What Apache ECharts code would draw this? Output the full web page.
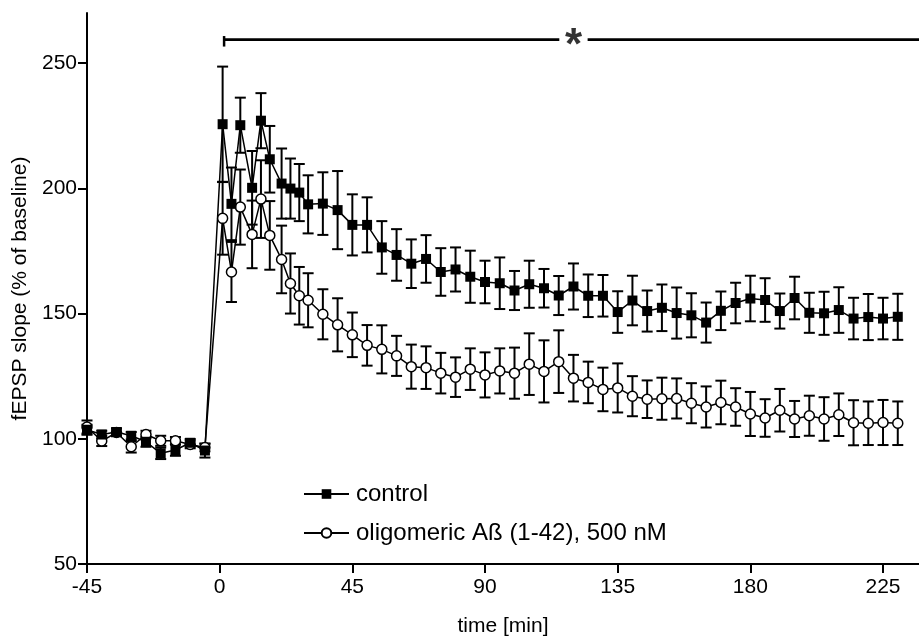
<!DOCTYPE html>
<html><head><meta charset="utf-8">
<script src="https://cdn.jsdelivr.net/npm/echarts@6/dist/echarts.min.js"></script>
<style>html,body{margin:0;padding:0;background:#fff}#c{width:919px;height:642px}</style>
</head><body><div id="c"></div>
<script>
// ---- data ----
const times = [-45,-40,-35,-30,-25,-20,-15,-10,-5,
  1,4,7,11,14,17,21,24,27,30,
  35,40,45,50,55,60,65,70,75,80,
  85,90,95,100,105,110,115,120,125,130,
  135,140,145,150,155,160,165,170,175,180,
  185,190,195,200,205,210,215,220,225,230];

const controlMean = [103.6,101.7,102.7,101.2,98.8,94.2,95.5,98.4,95.3,
  225.6,193.8,225.2,200.2,227,211.6,201.9,199.9,198.3,193.6,
  193.9,191.3,185.4,185.4,176.4,173.4,169.9,171.8,166.6,167.6,
  164.7,162.6,162.1,159.2,161.7,160.1,157.2,160.8,157.1,157.1,
  150.6,155.2,151,152.3,150.2,149.3,146.4,151.1,154.2,156,
  155.4,151,156.2,150.3,150.1,151.4,148,148.6,148,148.7];

const controlSem = [2,1.5,1.5,1.5,2,2.3,2.3,1.5,2.8,
  23,14.5,11,14.7,11,13.3,14,12,11.4,11.6,
  12.5,15.6,12.2,11,10.5,10.3,9.7,9.5,9.5,8.8,
  10.4,8.5,10.3,7.8,9.4,7.7,7.8,9.2,8.5,8.3,
  8.3,9.9,8.2,9.3,10.2,8.8,8,7.7,8.1,9.1,
  8.7,7,8.5,8,8.6,9.1,8.3,9.2,8.3,9.2];

const abetaMean = [104.7,99.1,102.5,96.8,101.7,99.2,99.2,97.7,96.5,
  188,166.6,192.5,181.6,195.7,181.2,171.6,162,157.1,155.3,
  149.7,145.5,141.5,137.3,135.7,133.1,128.8,128.4,126.2,124.6,
  127.8,125.5,127.1,126.2,129.8,126.9,130.8,124.2,122.5,119.7,
  120.3,117,115.8,116,116.1,114.2,112.7,114.5,112.7,109.9,
  108.3,111.4,107.9,109.2,107.9,109.6,106.4,106.2,106.5,106.2];

const abetaSem = [2.6,2,1.5,2.3,1.5,2,1.5,1.5,1.5,
  14.5,12,15,13.5,15.5,13.7,13.5,12,11.5,10.8,
  10,10.6,8.9,8.1,9.6,8,8.8,8.5,8.1,7.9,
  8.3,9,9,10.2,12.3,12.4,12.5,9.3,8.3,8.7,
  9.8,8,7.5,8.4,8,8,8.2,8.7,7.5,8.8,
  7.5,8.5,7.2,8,8.7,8.5,9,8.7,9,8.7];

const seriesNames = ['control', 'oligomeric A\u00df (1-42), 500 nM'];
const xTicks = [-45,0,45,90,135,180,225];
const yTicks = [50,100,150,200,250];
const xTitle = 'time [min]';
const yTitle = 'fEPSP slope (% of baseline)';

// significance bar (data coordinates), broken around the asterisk
const sigStart = 1.5, sigEnd = 237.5, sigLevel = 259.4;
const sigGapStart = 115.2, sigGapEnd = 124.8;
const sigTickTop = 260.8, sigTickBottom = 256.6;
const sigLabelAt = 120, sigLabel = '*';

// ---- chart ----
const FONT = '"Liberation Sans", Arial, Helvetica, sans-serif';
const chart = echarts.init(document.getElementById('c'), null, {renderer: 'canvas'});

function errData(mean, sem) {
  return times.map((t, i) => [t, mean[i] - sem[i], mean[i] + sem[i]]);
}
function errRender(params, api) {
  const x = api.value(0), lo = api.value(1), hi = api.value(2);
  const pHi = api.coord([x, hi]), pLo = api.coord([x, lo]);
  const w = 5.5;
  const style = {stroke: '#000', lineWidth: 2, fill: null};
  return {type: 'group', children: [
    {type: 'line', shape: {x1: pHi[0], y1: pHi[1], x2: pLo[0], y2: pLo[1]}, style: style},
    {type: 'line', shape: {x1: pHi[0] - w, y1: pHi[1], x2: pHi[0] + w, y2: pHi[1]}, style: style},
    {type: 'line', shape: {x1: pLo[0] - w, y1: pLo[1], x2: pLo[0] + w, y2: pLo[1]}, style: style}
  ]};
}
const pts = (mean) => times.map((t, i) => [t, mean[i]]);

const axisCommon = {
  type: 'value',
  axisLine: {show: true, onZero: false, lineStyle: {color: '#000', width: 2}},
  splitLine: {show: false},
  nameLocation: 'middle',
  nameTextStyle: {fontSize: 21, color: '#000', fontFamily: FONT}
};

chart.setOption({
  animation: false,
  backgroundColor: '#fff',
  grid: {left: 87, right: 0, top: 13, bottom: 69, containLabel: false},
  xAxis: Object.assign({}, axisCommon, {
    min: -45, max: 237.2,
    name: xTitle, nameGap: 52,
    axisTick: {show: true, customValues: xTicks, length: 9, lineStyle: {color: '#000', width: 2}},
    axisLabel: {customValues: xTicks, fontSize: 21, color: '#000', fontFamily: FONT, margin: 13}
  }),
  yAxis: Object.assign({}, axisCommon, {
    min: 50, max: 270,
    name: yTitle, nameGap: 46,
    axisTick: {show: true, customValues: yTicks, length: 9, lineStyle: {color: '#000', width: 2}},
    axisLabel: {customValues: yTicks, fontSize: 21, color: '#000', fontFamily: FONT, margin: 10}
  }),
  legend: {
    data: seriesNames,
    orient: 'vertical',
    left: 303, top: 482, padding: 0,
    itemWidth: 45, itemHeight: 12, itemGap: 15,
    textStyle: {fontSize: 24, color: '#000', fontFamily: FONT, padding: [0, 0, 0, 2]},
    selectedMode: false
  },
  series: [
    {type: 'custom', renderItem: errRender, data: errData(abetaMean, abetaSem),
      encode: {x: 0, y: [1, 2]}, silent: true},
    {type: 'line', name: seriesNames[1], data: pts(abetaMean),
      symbol: 'circle', symbolSize: 10, showAllSymbol: true,
      itemStyle: {color: '#fff', borderColor: '#000', borderWidth: 1.5},
      lineStyle: {color: '#000', width: 1.5}, emphasis: {disabled: true}, silent: true},
    {type: 'custom', renderItem: errRender, data: errData(controlMean, controlSem),
      encode: {x: 0, y: [1, 2]}, silent: true},
    {type: 'line', name: seriesNames[0], data: pts(controlMean),
      symbol: 'rect', symbolSize: 10, showAllSymbol: true,
      itemStyle: {color: '#000'},
      lineStyle: {color: '#000', width: 1.5}, emphasis: {disabled: true}, silent: true},
    {type: 'line', data: [[sigStart, sigLevel], [sigGapStart, sigLevel], [sigLabelAt, null],
        [sigGapEnd, sigLevel], [sigEnd, sigLevel]], symbol: 'none', connectNulls: false,
      lineStyle: {color: '#000', width: 2.7}, silent: true, clip: false},
    {type: 'line', data: [[sigStart, sigTickTop], [sigStart, sigTickBottom]], symbol: 'none',
      lineStyle: {color: '#000', width: 2.5}, silent: true, clip: false},
    {type: 'scatter', data: [[sigLabelAt, sigLevel]], symbol: 'circle', symbolSize: 0.1,
      itemStyle: {color: 'rgba(0,0,0,0)'}, silent: true, clip: false,
      label: {show: true, formatter: sigLabel, position: 'inside', fontSize: 44, fontWeight: 'bold',
        color: '#000', fontFamily: FONT, offset: [0, 7]}}
  ]
});
</script>
</body></html>
